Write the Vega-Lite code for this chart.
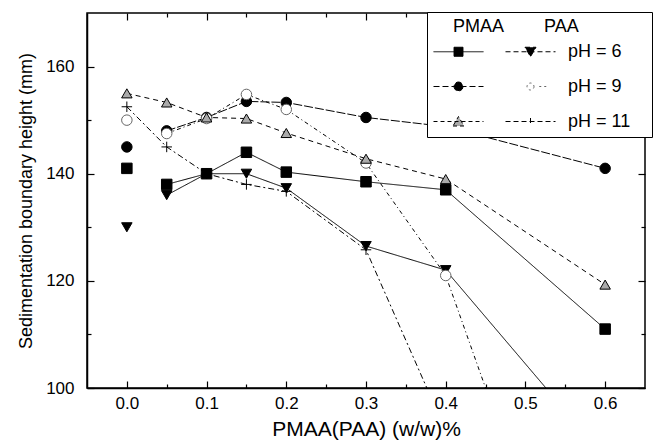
{
  "$schema": "https://vega.github.io/schema/vega-lite/v6.json",
  "width": 558,
  "height": 375,
  "autosize": {"type": "none"},
  "padding": {"left": 87, "top": 13, "right": 8, "bottom": 60},
  "background": "white",
  "config": {
    "font": "Liberation Sans",
    "view": {"stroke": "black", "strokeWidth": 1.5},
    "axis": {
      "domainColor": "black", "domainWidth": 1.5, "tickColor": "black", "tickWidth": 1.2,
      "labelColor": "black", "titleColor": "black", "labelFont": "Liberation Sans", "titleFont": "Liberation Sans",
      "labelFontSize": 17, "titleFontWeight": "normal", "grid": false, "labelOverlap": false, "labelFlush": false
    },
    "legend": {
      "orient": "none", "legendX": 340, "legendY": -1, "direction": "horizontal",
      "titleFont": "Liberation Sans", "titleFontSize": 18, "titleFontWeight": "normal", "titleColor": "black", "titlePadding": -10,
      "columns": 2, "columnPadding": 7, "rowPadding": -10,
      "symbolSize": 2500, "symbolStrokeWidth": 1, "symbolOpacity": 1,
      "labelFont": "Liberation Sans", "labelFontSize": 18, "labelColor": "black", "labelOffset": 12, "labelLimit": 300,
      "padding": 6, "strokeColor": "black", "fillColor": "white", "cornerRadius": 0
    }
  },
  "data": {
    "values": [
      {"series": "PMAA pH=6", "x": 0, "y": 141},
      {"series": "PMAA pH=6", "x": 0.05, "y": 138},
      {"series": "PMAA pH=6", "x": 0.1, "y": 140},
      {"series": "PMAA pH=6", "x": 0.15, "y": 144},
      {"series": "PMAA pH=6", "x": 0.2, "y": 140.3},
      {"series": "PMAA pH=6", "x": 0.3, "y": 138.5},
      {"series": "PMAA pH=6", "x": 0.4, "y": 137},
      {"series": "PMAA pH=6", "x": 0.6, "y": 111},
      {"series": "PAA pH=6", "x": 0, "y": 130},
      {"series": "PAA pH=6", "x": 0.05, "y": 136},
      {"series": "PAA pH=6", "x": 0.1, "y": 140},
      {"series": "PAA pH=6", "x": 0.15, "y": 140},
      {"series": "PAA pH=6", "x": 0.2, "y": 137.3},
      {"series": "PAA pH=6", "x": 0.3, "y": 126.5},
      {"series": "PAA pH=6", "x": 0.4, "y": 122},
      {"series": "PAA pH=6", "x": 0.6, "y": 87},
      {"series": "PMAA pH=9", "x": 0, "y": 145},
      {"series": "PMAA pH=9", "x": 0.05, "y": 148},
      {"series": "PMAA pH=9", "x": 0.1, "y": 150.5},
      {"series": "PMAA pH=9", "x": 0.15, "y": 153.5},
      {"series": "PMAA pH=9", "x": 0.2, "y": 153.3},
      {"series": "PMAA pH=9", "x": 0.3, "y": 150.5},
      {"series": "PMAA pH=9", "x": 0.4, "y": 148.8},
      {"series": "PMAA pH=9", "x": 0.6, "y": 141},
      {"series": "PAA pH=9", "x": 0, "y": 150},
      {"series": "PAA pH=9", "x": 0.05, "y": 147.5},
      {"series": "PAA pH=9", "x": 0.1, "y": 150.3},
      {"series": "PAA pH=9", "x": 0.15, "y": 154.8},
      {"series": "PAA pH=9", "x": 0.2, "y": 152},
      {"series": "PAA pH=9", "x": 0.3, "y": 142},
      {"series": "PAA pH=9", "x": 0.4, "y": 121},
      {"series": "PAA pH=9", "x": 0.5, "y": 79},
      {"series": "PMAA pH=11", "x": 0, "y": 155},
      {"series": "PMAA pH=11", "x": 0.05, "y": 153.3},
      {"series": "PMAA pH=11", "x": 0.1, "y": 150.5},
      {"series": "PMAA pH=11", "x": 0.15, "y": 150.3},
      {"series": "PMAA pH=11", "x": 0.2, "y": 147.6},
      {"series": "PMAA pH=11", "x": 0.3, "y": 142.8},
      {"series": "PMAA pH=11", "x": 0.4, "y": 139},
      {"series": "PMAA pH=11", "x": 0.6, "y": 119.3},
      {"series": "PAA pH=11", "x": 0, "y": 152.5},
      {"series": "PAA pH=11", "x": 0.05, "y": 145},
      {"series": "PAA pH=11", "x": 0.1, "y": 140},
      {"series": "PAA pH=11", "x": 0.15, "y": 138},
      {"series": "PAA pH=11", "x": 0.2, "y": 136.7},
      {"series": "PAA pH=11", "x": 0.3, "y": 125.8},
      {"series": "PAA pH=11", "x": 0.4, "y": 92}
    ]
  },
  "layer": [
    {
      "transform": [{"filter": "datum.x > 0 || indexof(datum.series, 'pH=11') >= 0"}],
      "mark": {"type": "line", "clip": true, "stroke": "black", "strokeWidth": 1},
      "encoding": {
        "x": {
          "field": "x", "type": "quantitative",
          "scale": {"domain": [-0.05, 0.65], "nice": false, "zero": false},
          "axis": {
            "orient": "bottom",
            "values": [0, 0.1, 0.2, 0.3, 0.4, 0.5, 0.6],
            "format": ".1f",
            "title": "PMAA(PAA) (w/w)%", "titleFontSize": 21, "titlePadding": 7,
            "ticks": false, "tickSize": 0,
            "labelPadding": 7
          }
        },
        "y": {
          "field": "y", "type": "quantitative",
          "scale": {"domain": [100, 170], "nice": false, "zero": false},
          "axis": {
            "orient": "left",
            "values": [100, 120, 140, 160],
            "title": "Sedimentation boundary height (mm)", "titleFontSize": 18, "titlePadding": 10,
            "ticks": false, "tickSize": 0,
            "labelPadding": 13
          }
        },
        "strokeDash": {
          "field": "series", "type": "nominal",
          "scale": {
            "domain": ["PAA pH=11", "PAA pH=6", "PAA pH=9", "PMAA pH=11", "PMAA pH=6", "PMAA pH=9"],
            "range": [[6, 3, 2, 3], [1, 0], [4, 3, 1, 3], [5, 4], [1, 0], [9, 2]]
          },
          "legend": null
        },
        "order": {"field": "x", "type": "quantitative"}
      }
    },
    {
      "mark": {"type": "point", "clip": true, "filled": true, "strokeWidth": 1, "opacity": 1, "size": 110},
      "encoding": {
        "x": {
          "field": "x", "type": "quantitative",
          "axis": {"orient": "top", "labels": false, "title": null, "domain": false, "values": [0, 0.1, 0.2, 0.3, 0.4, 0.5, 0.6], "tickSize": 7, "offset": -7}
        },
        "y": {
          "field": "y", "type": "quantitative",
          "axis": {"orient": "right", "labels": false, "title": null, "domain": false, "values": [100, 120, 140, 160], "tickSize": 7, "offset": -7}
        },
        "shape": {
          "field": "series", "type": "nominal",
          "scale": {
            "domain": ["PAA pH=11", "PAA pH=6", "PAA pH=9", "PMAA pH=11", "PMAA pH=6", "PMAA pH=9"],
            "range": ["M-1,0H1M0,-1V1", "triangle-down", "circle", "triangle-up", "square", "circle"]
          },
          "legend": null
        },
        "fill": {
          "field": "series", "type": "nominal",
          "scale": {
            "domain": ["PAA pH=11", "PAA pH=6", "PAA pH=9", "PMAA pH=11", "PMAA pH=6", "PMAA pH=9"],
            "range": ["black", "black", "white", "#aaaaaa", "black", "black"]
          },
          "legend": null
        },
        "stroke": {
          "field": "series", "type": "nominal",
          "scale": {
            "domain": ["PAA pH=11", "PAA pH=6", "PAA pH=9", "PMAA pH=11", "PMAA pH=6", "PMAA pH=9"],
            "range": ["black", "black", "#666666", "black", "black", "black"]
          },
          "legend": null
        }
      }
    },
    {
      "transform": [{"filter": "false"}],
      "mark": {"type": "point", "filled": true, "opacity": 1, "strokeWidth": 1},
      "encoding": {
        "x": {
          "field": "x", "type": "quantitative",
          "axis": {"orient": "bottom", "labels": false, "title": null, "domain": false, "values": [0, 0.1, 0.2, 0.3, 0.4, 0.5, 0.6], "tickSize": 7, "offset": -7}
        },
        "y": {
          "field": "y", "type": "quantitative",
          "axis": {"orient": "left", "labels": false, "title": null, "domain": false, "values": [100, 120, 140, 160], "tickSize": 7, "offset": -7}
        },
        "shape": {
          "field": "series", "type": "nominal",
          "scale": {
            "domain": ["PMAA pH=6", "PAA pH=6", "PMAA pH=9", "PAA pH=9", "PMAA pH=11", "PAA pH=11"],
            "range": [
              "M-1,0H1M-0.18,-0.18H0.18V0.18H-0.18Z",
              "M-1,0H1M-0.22,-0.18L0.22,-0.18L0,0.2Z",
              "M-1,0H1M0.18,0A0.18,0.18,0,1,1,-0.18,0A0.18,0.18,0,1,1,0.18,0Z",
              "M0.35,0H0.65M0.14,0A0.14,0.14,0,1,1,-0.14,0A0.14,0.14,0,1,1,0.14,0Z",
              "M-1,0H1M-0.22,0.18L0.22,0.18L0,-0.2Z",
              "M-1,0H1M0,-0.14V0.14"
            ]
          },
          "legend": {
            "title": "\u200b\u00a0\u00a0\u00a0\u00a0PMAA\u00a0\u00a0\u00a0\u00a0\u00a0\u00a0\u00a0\u00a0PAA",
            "labelExpr": "indexof(datum.label, 'PAA') === 0 ? 'pH = ' + replace(datum.label, 'PAA pH=', '') + '\u00a0\u00a0\u00a0\u200b' : ''"
          }
        },
        "fill": {
          "field": "series", "type": "nominal",
          "scale": {
            "domain": ["PMAA pH=6", "PAA pH=6", "PMAA pH=9", "PAA pH=9", "PMAA pH=11", "PAA pH=11"],
            "range": ["black", "black", "black", "white", "#aaaaaa", "black"]
          },
          "legend": {
            "title": "\u200b\u00a0\u00a0\u00a0\u00a0PMAA\u00a0\u00a0\u00a0\u00a0\u00a0\u00a0\u00a0\u00a0PAA",
            "labelExpr": "indexof(datum.label, 'PAA') === 0 ? 'pH = ' + replace(datum.label, 'PAA pH=', '') + '\u00a0\u00a0\u00a0\u200b' : ''"
          }
        },
        "stroke": {
          "field": "series", "type": "nominal",
          "scale": {
            "domain": ["PMAA pH=6", "PAA pH=6", "PMAA pH=9", "PAA pH=9", "PMAA pH=11", "PAA pH=11"],
            "range": ["black", "black", "black", "#666666", "black", "black"]
          },
          "legend": {
            "title": "\u200b\u00a0\u00a0\u00a0\u00a0PMAA\u00a0\u00a0\u00a0\u00a0\u00a0\u00a0\u00a0\u00a0PAA",
            "labelExpr": "indexof(datum.label, 'PAA') === 0 ? 'pH = ' + replace(datum.label, 'PAA pH=', '') + '\u00a0\u00a0\u00a0\u200b' : ''"
          }
        },
        "strokeDash": {
          "field": "series", "type": "nominal",
          "scale": {
            "domain": ["PMAA pH=6", "PAA pH=6", "PMAA pH=9", "PAA pH=9", "PMAA pH=11", "PAA pH=11"],
            "range": [[1, 0], [5, 3], [6, 3], [2, 3], [4, 3], [5, 3]]
          },
          "legend": {
            "title": "\u200b\u00a0\u00a0\u00a0\u00a0PMAA\u00a0\u00a0\u00a0\u00a0\u00a0\u00a0\u00a0\u00a0PAA",
            "labelExpr": "indexof(datum.label, 'PAA') === 0 ? 'pH = ' + replace(datum.label, 'PAA pH=', '') + '\u00a0\u00a0\u00a0\u200b' : ''"
          }
        }
      }
    },
    {
      "transform": [{"filter": "false"}],
      "mark": {"type": "point"},
      "encoding": {
        "x": {
          "field": "x", "type": "quantitative",
          "axis": {"orient": "bottom", "labels": false, "title": null, "domain": false, "values": [0.05, 0.15, 0.25, 0.35, 0.45, 0.55], "tickSize": 4, "offset": -4}
        },
        "y": {
          "field": "y", "type": "quantitative",
          "axis": {"orient": "left", "labels": false, "title": null, "domain": false, "values": [110, 130, 150], "tickSize": 4, "offset": -4}
        }
      }
    },
    {
      "transform": [{"filter": "false"}],
      "mark": {"type": "point"},
      "encoding": {
        "x": {
          "field": "x", "type": "quantitative",
          "axis": {"orient": "top", "labels": false, "title": null, "domain": false, "values": [0.05, 0.15, 0.25, 0.35, 0.45, 0.55], "tickSize": 4, "offset": -4}
        },
        "y": {
          "field": "y", "type": "quantitative",
          "axis": {"orient": "right", "labels": false, "title": null, "domain": false, "values": [110, 130, 150], "tickSize": 4, "offset": -4}
        }
      }
    }
  ],
  "resolve": {
    "axis": {"x": "independent", "y": "independent"},
    "scale": {"shape": "independent", "fill": "independent", "stroke": "independent", "strokeDash": "independent"}
  }
}
